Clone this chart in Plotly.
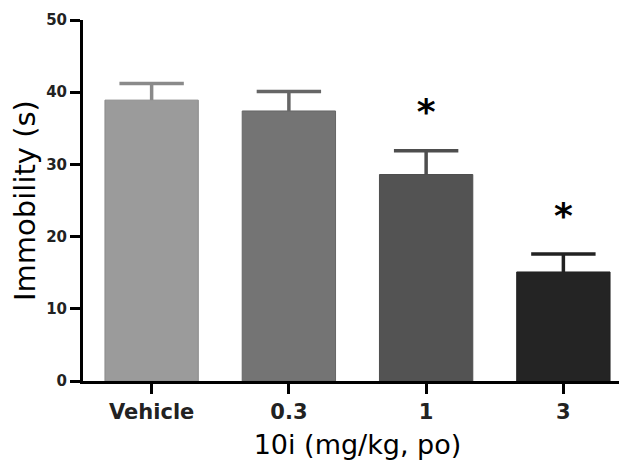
import plotly.graph_objects as go

# values
groups = ["Vehicle", "0.3", "1", "3"]
immobility = [38.9, 37.4, 28.6, 15.1]
sem = [2.3, 2.7, 3.3, 2.5]
significant = [False, False, True, True]

bar_colors = ["#9b9b9b", "#747474", "#535353", "#242424"]
err_colors = ["#8a8a8a", "#666666", "#4e4e4e", "#222222"]

fig = go.Figure()

# bars with an upward error stem (no plotly caps, so nothing is drawn at the bar top)
for g, v, e, c, ec in zip(groups, immobility, sem, bar_colors, err_colors):
    fig.add_trace(go.Bar(
        x=[g], y=[v],
        marker=dict(color=c, line=dict(color=ec, width=1)),
        error_y=dict(type="data", array=[e], arrayminus=[0], symmetric=False,
                     color=ec, thickness=3.5, width=0),
        showlegend=False,
    ))
    # the cap of the error bar
    fig.add_trace(go.Scatter(
        x=[g], y=[v + e], mode="markers",
        marker=dict(symbol="line-ew", size=46, line=dict(color=ec, width=3.5)),
        showlegend=False, hoverinfo="skip",
    ))

# significance stars above the error bars
star_x = [g for g, s in zip(groups, significant) if s]
star_y = [v + e + 4.9 for v, e, s in zip(immobility, sem, significant) if s]
fig.add_trace(go.Scatter(
    x=star_x, y=star_y, mode="text", text=["*"] * len(star_x),
    textposition="middle center",
    textfont=dict(family="DejaVu Sans", size=36, color="black", weight="bold"),
    showlegend=False,
))

fig.update_layout(
    width=627, height=462,
    margin=dict(l=75, r=3, t=9, b=89),
    plot_bgcolor="white", paper_bgcolor="white",
    barmode="overlay", bargap=0.32,
    font=dict(family="DejaVu Sans", color="black"),
)

fig.update_xaxes(
    range=[-0.5, 3.5],
    showline=True, linecolor="black", linewidth=3,
    ticks="outside", ticklen=10, tickwidth=3, tickcolor="black",
    tickfont=dict(family="DejaVu Sans", size=21, color="#222222", weight="bold"),
    title=dict(text="10i (mg/kg, po)", font=dict(size=27, color="black"), standoff=12),
    showgrid=False, zeroline=False,
)
fig.update_yaxes(
    range=[0, 50], tickvals=[0, 10, 20, 30, 40, 50],
    showline=True, linecolor="black", linewidth=3,
    ticks="outside", ticklen=10, tickwidth=3, tickcolor="black",
    tickfont=dict(family="DejaVu Sans", size=15, color="#222222", weight="bold"),
    title=dict(text="Immobility (s)", font=dict(size=29, color="black"), standoff=2),
    showgrid=False, zeroline=False,
)

fig.write_html("out.html")
